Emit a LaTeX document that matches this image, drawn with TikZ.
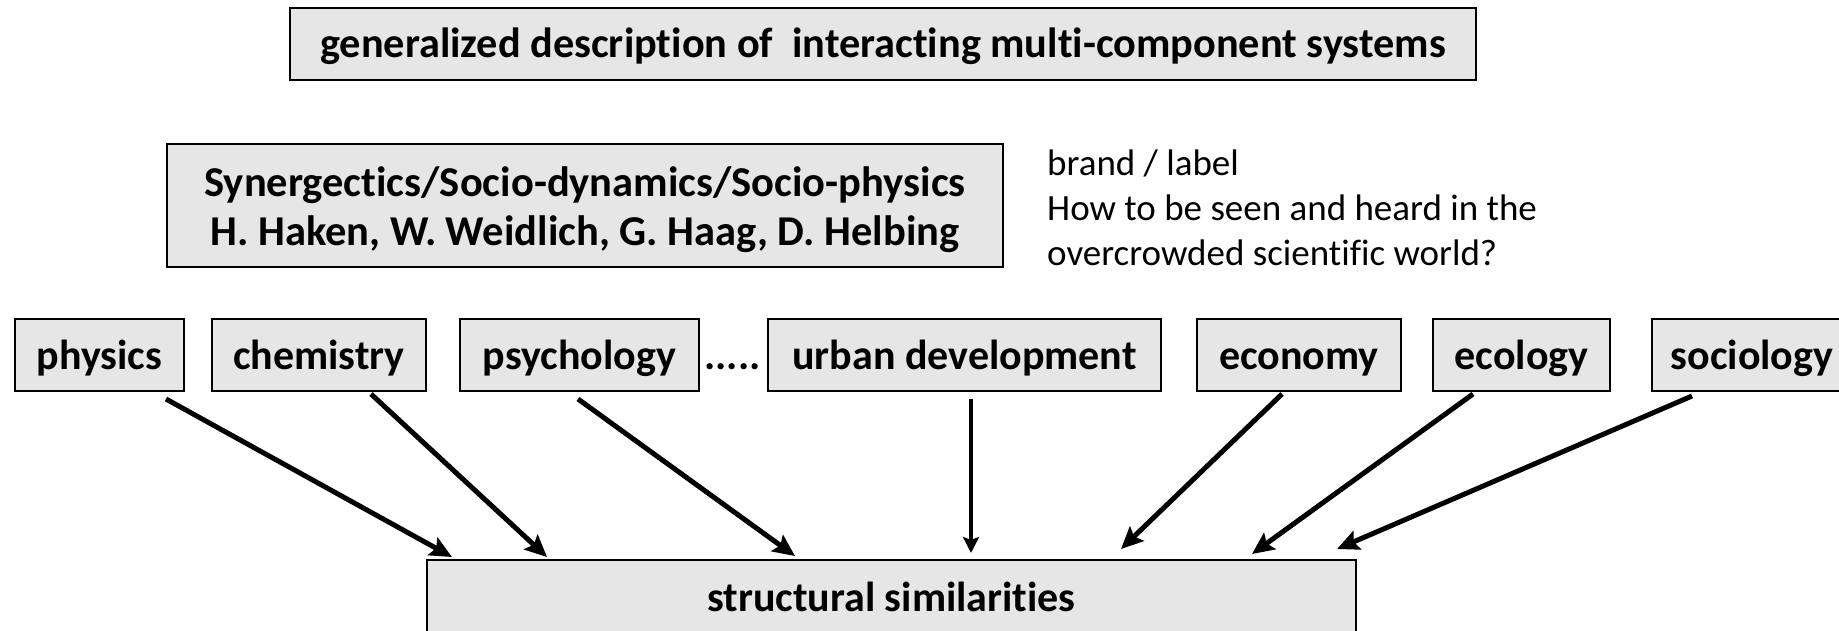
\documentclass[tikz,border=0pt]{standalone}
\usepackage{fontspec}
\setmainfont{Carlito}[Ligatures=NoCommon]
\usetikzlibrary{arrows.meta,calc}
\definecolor{boxgray}{RGB}{230,230,230}
\tikzset{
  gbox/.style={draw=black, line width=2pt, fill=boxgray, inner sep=0pt, align=center,
    font=\fontsize{42}{50}\selectfont\bfseries},
  rowbox/.style={gbox, minimum height=72pt, text height=33pt, text depth=5pt},
  thickarr/.style={line width=5pt, -{Stealth[length=22pt,width=20pt,inset=4pt]}},
  thinarr/.style={line width=3.5pt, -{Stealth[length=16pt,width=16pt,inset=3pt]}},
}
\begin{document}
\begin{tikzpicture}[x=1pt,y=-1pt]
\path[clip] (0,0) rectangle (1839,630);
\fill[white] (0,0) rectangle (1839,630);

\node[gbox, minimum width=1186pt, minimum height=72pt, text height=33pt, text depth=7pt,
  font=\fontsize{42.3}{50}\selectfont\bfseries] (top) at (883,44)
  {generalized description of~~interacting multi-component systems};

\node[gbox, minimum width=836pt, minimum height=123pt] (syn) at (585,205.5) {};
\node[align=center, inner sep=0pt, font=\fontsize{42.5}{49}\selectfont\bfseries] (syntext)
  at ($(syn.center)+(0,4.5)$)
  {Synergectics/Socio-dynamics/Socio-physics\\H. Haken, W. Weidlich, G. Haag, D. Helbing};

\node[anchor=west, align=left, inner sep=0pt, font=\fontsize{37}{45}\selectfont] (brand) at (1047,208)
  {brand / label\\How to be seen and heard in the\\overcrowded scientific world?};

\node[rowbox, minimum width=169pt] (physics) at (99.5,355) {physics};
\node[rowbox, minimum width=214pt] (chemistry) at (319,355) {chemistry};
\node[rowbox, minimum width=239pt] (psychology) at (579.5,355) {psychology};
\node[anchor=base, inner sep=0pt, font=\fontsize{42}{50}\selectfont\bfseries] (dots) at (732.5,369) {.....};
\node[rowbox, minimum width=393pt] (urban) at (964.5,355) {urban development};
\node[rowbox, minimum width=204pt] (economy) at (1299,355) {economy};
\node[rowbox, minimum width=177pt] (ecology) at (1521.5,355) {ecology};
\node[rowbox, minimum width=200pt] (sociology) at (1752,355) {sociology};

\node[gbox, minimum width=929pt, minimum height=74pt] (bottom) at (891.5,597) {structural similarities};

\draw[thickarr] ($(physics.south west)+(152,7)$) -- ($(bottom.north west)+(26,-2)$);
\draw[thickarr] ($(chemistry.south west)+(160,2)$) -- ($(bottom.north west)+(121,-2)$);
\draw[thickarr] ($(psychology.south west)+(119,7)$) -- ($(bottom.north west)+(369,-3)$);
\draw[thinarr] ($(urban.south west)+(204,7)$) -- ($(bottom.north west)+(545,-6)$);
\draw[thickarr] ($(economy.south west)+(86,2)$) -- ($(bottom.north west)+(695,-10)$);
\draw[thickarr] ($(ecology.south west)+(41,2)$) -- ($(bottom.north west)+(826,-5)$);
\draw[thickarr] ($(sociology.south west)+(41,4)$) -- ($(bottom.north west)+(911,-10)$);
\end{tikzpicture}
\end{document}
